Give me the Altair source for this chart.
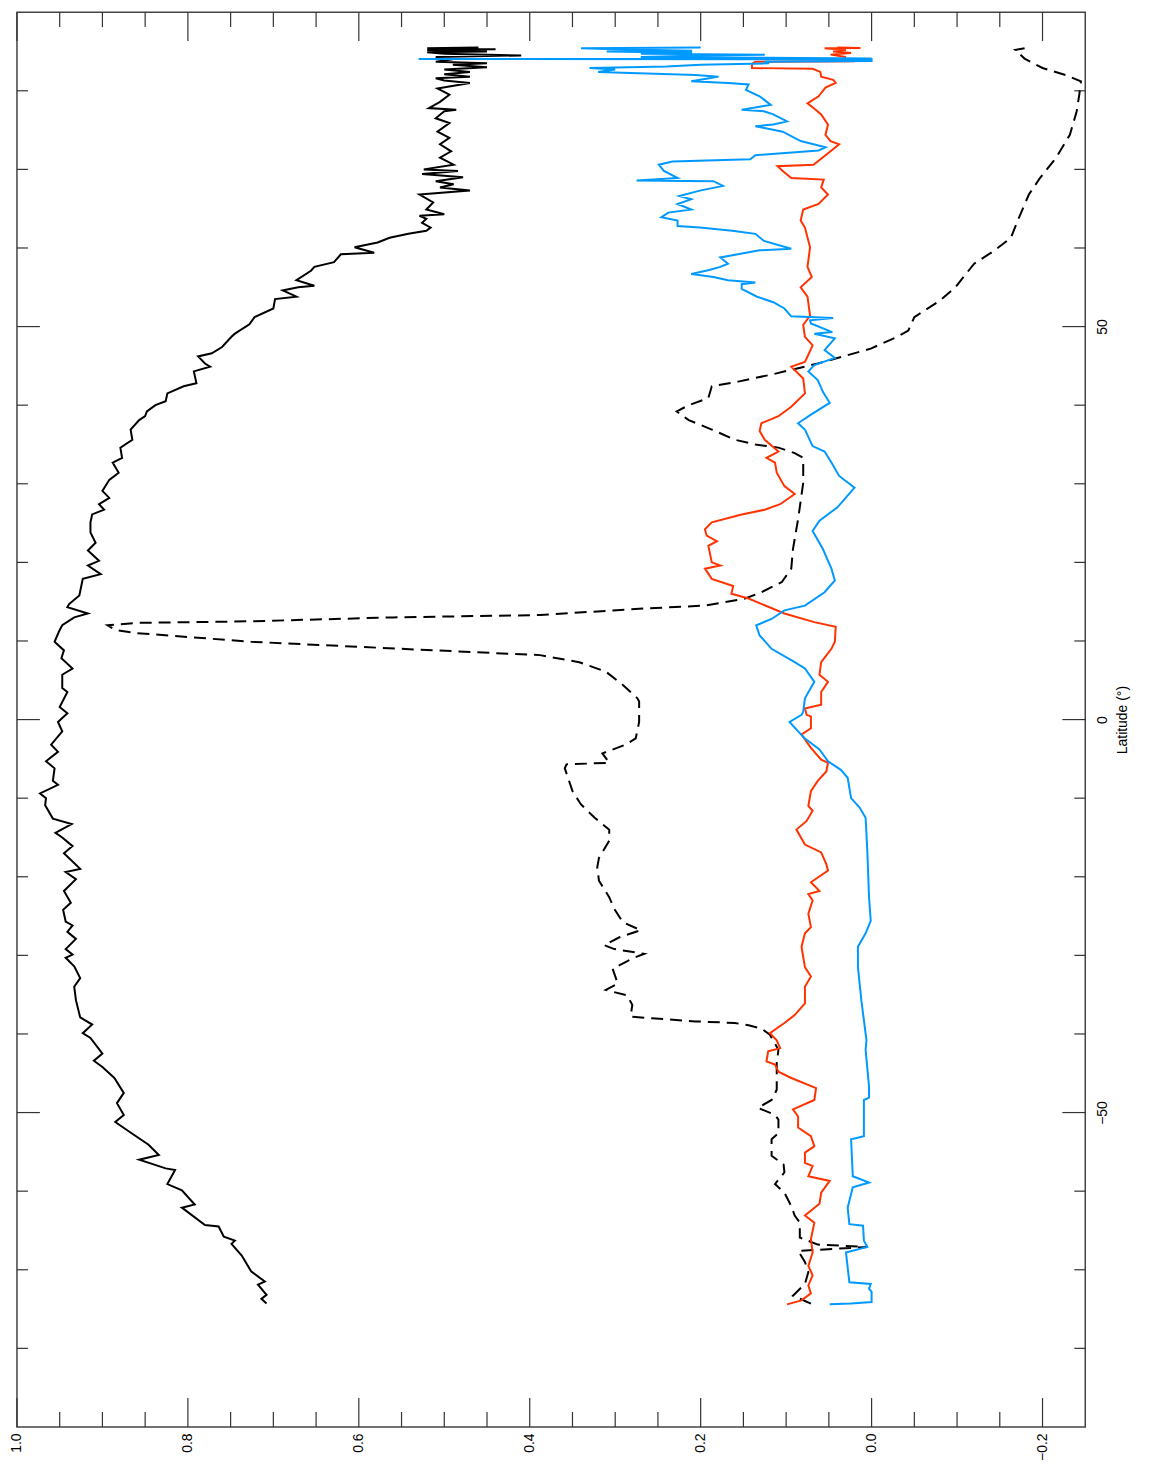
import altair as alt
import pandas as pd

# ---------------- data (latitude in degrees, value) ----------------
black_solid = [
    (-74.3, 0.708), (-73.7, 0.714), (-73.2, 0.708), (-71.9, 0.718), (-71.5, 0.710),
    (-70.2, 0.726), (-68.2, 0.737), (-66.7, 0.749), (-66.3, 0.745), (-65.8, 0.758),
    (-64.5, 0.764), (-64.3, 0.780), (-62.1, 0.807), (-61.7, 0.792), (-59.9, 0.807),
    (-59.1, 0.824), (-57.3, 0.815), (-57.1, 0.826), (-56.0, 0.857), (-55.4, 0.834),
    (-54.1, 0.846), (-52.7, 0.865), (-51.2, 0.885), (-50.3, 0.875), (-48.8, 0.883),
    (-47.5, 0.875), (-45.6, 0.886), (-44.2, 0.900), (-43.4, 0.910), (-42.5, 0.900),
    (-40.5, 0.914), (-39.9, 0.923), (-38.8, 0.912), (-37.9, 0.926), (-35.7, 0.931),
    (-34.0, 0.933), (-32.9, 0.926), (-31.4, 0.933), (-30.3, 0.943), (-29.9, 0.935),
    (-29.2, 0.943), (-27.9, 0.931), (-27.0, 0.941), (-26.2, 0.935), (-25.7, 0.943),
    (-24.2, 0.946), (-23.3, 0.937), (-21.8, 0.945), (-20.3, 0.931), (-19.4, 0.943),
    (-19.0, 0.926), (-17.0, 0.945), (-16.1, 0.935), (-15.0, 0.947), (-14.4, 0.955),
    (-13.3, 0.936), (-12.6, 0.958), (-10.9, 0.967), (-10.0, 0.966), (-9.4, 0.973),
    (-8.3, 0.952), (-7.8, 0.958), (-6.2, 0.956), (-5.3, 0.966), (-4.1, 0.952),
    (-3.2, 0.960), (-1.5, 0.947), (-0.3, 0.952), (0.8, 0.941), (1.6, 0.950),
    (3.5, 0.941), (4.0, 0.947), (5.7, 0.947), (6.5, 0.935), (7.8, 0.948),
    (8.8, 0.945), (9.9, 0.956), (11.4, 0.950), (12.0, 0.947), (13.0, 0.933),
    (13.5, 0.917), (14.3, 0.941), (14.7, 0.939), (15.8, 0.927), (17.9, 0.923),
    (18.5, 0.902), (19.6, 0.917), (20.2, 0.904), (21.5, 0.917), (22.5, 0.908),
    (23.8, 0.914), (25.1, 0.914), (26.1, 0.912), (26.7, 0.898), (27.4, 0.904),
    (28.2, 0.892), (29.1, 0.900), (30.5, 0.892), (31.4, 0.881), (32.7, 0.888),
    (33.3, 0.877), (34.6, 0.879), (35.6, 0.865), (36.9, 0.867), (38.1, 0.857),
    (38.6, 0.850), (39.2, 0.848), (40.0, 0.838), (40.5, 0.826), (41.5, 0.824),
    (42.4, 0.805), (42.8, 0.790), (44.3, 0.793), (44.9, 0.774), (45.3, 0.780),
    (46.2, 0.788), (46.6, 0.772), (47.4, 0.760), (48.7, 0.749), (49.1, 0.745),
    (50.3, 0.728), (51.2, 0.722), (52.3, 0.700), (53.5, 0.698), (53.8, 0.673),
    (54.6, 0.689), (55.0, 0.671), (55.2, 0.652), (55.9, 0.673), (57.1, 0.656),
    (57.6, 0.652), (58.2, 0.629), (59.2, 0.621), (59.4, 0.582), (60.1, 0.605),
    (60.7, 0.578), (61.3, 0.564), (61.8, 0.542), (62.2, 0.521), (62.6, 0.516),
    (63.2, 0.526), (63.7, 0.521), (64.1, 0.529), (64.3, 0.500), (64.9, 0.521),
    (65.8, 0.513), (66.8, 0.529), (67.3, 0.470), (67.7, 0.505), (68.1, 0.489),
    (68.5, 0.510), (69.0, 0.478), (69.4, 0.526), (69.8, 0.484), (70.0, 0.524),
    (70.6, 0.489), (71.5, 0.505), (72.3, 0.492), (73.2, 0.505), (74.0, 0.494),
    (74.8, 0.508), (75.9, 0.494), (76.5, 0.510), (77.4, 0.500), (77.6, 0.486),
    (77.8, 0.518), (78.6, 0.505), (79.5, 0.494), (80.3, 0.508), (81.0, 0.470),
    (81.3, 0.500), (81.6, 0.510), (81.8, 0.470), (82.1, 0.500), (82.4, 0.470),
    (82.7, 0.500), (83.0, 0.450), (83.3, 0.490), (83.5, 0.450), (83.7, 0.510),
    (84.0, 0.490), (84.3, 0.510), (84.5, 0.410), (84.7, 0.500), (84.9, 0.520),
    (85.0, 0.450), (85.2, 0.520), (85.3, 0.440), (85.4, 0.520), (85.5, 0.460),
]

black_dashed = [
    (-74.3, 0.071), (-73.3, 0.092), (-71.8, 0.078), (-70.3, 0.074), (-69.0, 0.078),
    (-67.6, 0.086), (-67.1, 0.005), (-66.8, 0.063), (-65.9, 0.084), (-65.2, 0.084),
    (-64.0, 0.084), (-63.1, 0.090), (-61.9, 0.094), (-60.2, 0.102), (-59.1, 0.113),
    (-57.6, 0.102), (-56.6, 0.103), (-55.5, 0.117), (-53.4, 0.117), (-52.6, 0.109),
    (-50.9, 0.109), (-50.3, 0.113), (-49.4, 0.133), (-48.4, 0.117), (-47.1, 0.111),
    (-45.4, 0.111), (-43.7, 0.111), (-42.0, 0.109), (-40.1, 0.119), (-39.3, 0.129),
    (-38.9, 0.144), (-38.6, 0.160), (-38.4, 0.206), (-38.0, 0.257), (-37.8, 0.282),
    (-36.3, 0.280), (-35.1, 0.286), (-34.4, 0.311), (-33.6, 0.297), (-31.7, 0.303),
    (-30.4, 0.280), (-29.8, 0.266), (-29.2, 0.301), (-28.7, 0.313), (-27.7, 0.295),
    (-26.8, 0.270), (-25.8, 0.291), (-24.1, 0.301), (-22.6, 0.307), (-20.5, 0.319),
    (-18.8, 0.321), (-17.6, 0.319), (-15.4, 0.307), (-14.0, 0.307), (-12.5, 0.324),
    (-10.8, 0.340), (-9.1, 0.350), (-6.2, 0.359), (-5.7, 0.357), (-5.5, 0.307),
    (-4.3, 0.315), (-3.2, 0.288), (-2.4, 0.276), (-0.3, 0.272), (2.3, 0.272),
    (2.7, 0.274), (4.4, 0.291), (6.1, 0.311), (7.3, 0.342), (8.2, 0.388),
    (9.0, 0.550), (9.9, 0.726), (11.0, 0.860), (11.4, 0.885), (12.0, 0.894),
    (12.3, 0.860), (12.5, 0.728), (13.0, 0.560), (13.3, 0.388), (14.1, 0.272),
    (14.5, 0.195), (15.4, 0.148), (16.2, 0.129), (17.5, 0.105), (19.2, 0.094),
    (21.7, 0.092), (25.5, 0.086), (30.1, 0.080), (33.3, 0.080), (33.9, 0.090),
    (34.6, 0.109), (35.0, 0.136), (35.6, 0.160), (36.9, 0.187), (38.1, 0.214),
    (39.2, 0.228), (40.0, 0.214), (40.9, 0.191), (42.4, 0.187), (43.0, 0.156),
    (43.9, 0.117), (44.7, 0.086), (45.3, 0.063), (46.0, 0.040), (47.2, 0.001),
    (48.7, -0.030), (49.5, -0.043), (51.2, -0.050), (53.3, -0.080), (55.0, -0.098),
    (58.0, -0.120), (59.7, -0.144), (61.3, -0.163), (63.5, -0.171), (66.8, -0.184),
    (68.9, -0.197), (71.5, -0.216), (74.4, -0.232), (77.4, -0.240), (79.5, -0.243),
    (81.2, -0.245), (82.0, -0.227), (82.9, -0.200), (84.1, -0.179), (85.2, -0.168),
    (85.4, -0.179),
]

red_line = [
    (-74.4, 0.099), (-73.9, 0.082), (-73.0, 0.071), (-72.0, 0.074), (-70.7, 0.069),
    (-69.5, 0.074), (-67.8, 0.069), (-66.1, 0.071), (-64.0, 0.067), (-63.1, 0.078),
    (-61.6, 0.061), (-60.2, 0.059), (-58.7, 0.049), (-58.1, 0.074), (-56.8, 0.069),
    (-56.4, 0.078), (-55.1, 0.078), (-54.3, 0.067), (-53.0, 0.071), (-51.9, 0.086),
    (-50.5, 0.086), (-49.6, 0.092), (-48.4, 0.067), (-46.9, 0.065), (-45.6, 0.094),
    (-44.8, 0.109), (-43.9, 0.113), (-43.5, 0.123), (-42.2, 0.121), (-41.8, 0.107),
    (-40.8, 0.111), (-39.9, 0.119), (-38.6, 0.102), (-37.6, 0.090), (-36.1, 0.078),
    (-34.0, 0.078), (-32.7, 0.071), (-31.5, 0.078), (-28.9, 0.082), (-27.2, 0.078),
    (-26.4, 0.071), (-24.7, 0.074), (-23.0, 0.069), (-22.2, 0.074), (-21.8, 0.061),
    (-20.7, 0.071), (-19.2, 0.051), (-18.4, 0.053), (-16.9, 0.059), (-15.9, 0.078),
    (-14.0, 0.088), (-12.9, 0.076), (-11.6, 0.069), (-11.0, 0.074), (-9.1, 0.071),
    (-7.8, 0.063), (-6.6, 0.053), (-5.5, 0.051), (-5.1, 0.059), (-3.6, 0.071),
    (-1.9, 0.082), (-1.1, 0.071), (0.4, 0.071), (0.6, 0.076), (1.4, 0.078),
    (1.9, 0.059), (3.5, 0.059), (4.8, 0.051), (5.7, 0.061), (7.3, 0.059),
    (9.0, 0.047), (9.9, 0.043), (11.8, 0.042), (12.4, 0.067), (13.5, 0.102),
    (15.4, 0.144), (16.0, 0.164), (17.0, 0.162), (17.9, 0.187), (19.2, 0.195),
    (19.6, 0.177), (20.0, 0.187), (22.1, 0.191), (22.7, 0.181), (23.4, 0.193),
    (24.2, 0.195), (25.1, 0.187), (26.1, 0.152), (26.7, 0.125), (27.4, 0.107),
    (28.7, 0.090), (29.7, 0.102), (31.4, 0.111), (32.7, 0.113), (33.3, 0.123),
    (34.1, 0.109), (35.6, 0.125), (36.7, 0.131), (37.7, 0.129), (38.6, 0.109),
    (39.8, 0.094), (41.5, 0.078), (43.4, 0.080), (44.9, 0.094), (45.5, 0.078),
    (47.6, 0.069), (48.7, 0.078), (50.2, 0.080), (51.4, 0.072), (53.8, 0.075),
    (55.0, 0.083), (56.3, 0.070), (57.6, 0.075), (60.1, 0.072), (62.6, 0.078),
    (63.5, 0.083), (64.9, 0.080), (65.6, 0.062), (66.8, 0.051), (67.7, 0.059),
    (68.7, 0.056), (68.9, 0.094), (69.8, 0.104), (70.4, 0.110), (70.6, 0.068),
    (72.3, 0.048), (73.2, 0.038), (73.6, 0.048), (74.4, 0.054), (75.7, 0.051),
    (77.0, 0.059), (77.8, 0.068), (78.4, 0.075), (79.3, 0.062), (80.4, 0.054),
    (81.0, 0.042), (81.4, 0.045), (81.8, 0.059), (82.4, 0.060), (82.8, 0.069),
    (82.9, 0.140), (83.4, 0.140), (83.7, 0.136), (83.75, 0.020), (84.0, 0.040),
    (84.3, 0.030), (84.6, 0.048), (84.8, 0.024), (85.0, 0.045), (85.2, 0.030),
    (85.4, 0.055), (85.45, 0.013), (85.5, 0.040),
]

blue_line = [
    (-74.4, 0.049), (-74.3, 0.024), (-74.1, 0.000), (-72.8, 0.000), (-72.4, 0.003),
    (-71.8, 0.001), (-71.6, 0.026), (-67.8, 0.030), (-67.1, 0.005), (-66.3, 0.009),
    (-64.4, 0.010), (-64.2, 0.026), (-62.1, 0.028), (-59.5, 0.022), (-58.9, 0.003),
    (-58.1, 0.022), (-53.4, 0.024), (-53.0, 0.009), (-48.4, 0.009), (-48.1, 0.003),
    (-46.7, 0.003), (-42.0, 0.007), (-40.8, 0.006), (-37.4, 0.010), (-35.7, 0.012),
    (-31.5, 0.016), (-28.9, 0.016), (-27.2, 0.007), (-25.6, 0.001), (-22.6, 0.003),
    (-16.7, 0.005), (-12.5, 0.007), (-11.2, 0.014), (-10.0, 0.024), (-7.4, 0.028),
    (-6.4, 0.036), (-5.3, 0.051), (-3.8, 0.061), (-2.4, 0.078), (-1.5, 0.086),
    (-0.3, 0.096), (0.6, 0.082), (1.0, 0.080), (2.7, 0.078), (4.8, 0.067),
    (6.5, 0.078), (7.3, 0.090), (9.0, 0.117), (10.7, 0.131), (12.0, 0.135),
    (12.8, 0.117), (13.9, 0.102), (14.5, 0.078), (16.2, 0.055), (17.7, 0.043),
    (19.2, 0.047), (21.7, 0.057), (24.0, 0.069), (25.3, 0.061), (27.0, 0.040),
    (29.5, 0.020), (31.0, 0.038), (32.7, 0.047), (34.1, 0.055), (34.8, 0.069),
    (36.9, 0.078), (37.7, 0.086), (38.8, 0.071), (40.3, 0.049), (41.7, 0.057),
    (43.2, 0.063), (44.3, 0.074), (45.1, 0.067), (46.0, 0.043), (47.0, 0.055),
    (48.5, 0.043), (49.1, 0.067), (49.3, 0.046), (50.4, 0.071), (50.8, 0.072),
    (51.1, 0.045), (51.3, 0.094), (52.3, 0.102), (53.1, 0.115), (53.8, 0.134),
    (54.8, 0.152), (55.4, 0.152), (55.6, 0.136), (55.9, 0.168), (56.3, 0.185),
    (56.7, 0.211), (57.2, 0.190), (57.6, 0.177), (58.0, 0.168), (58.8, 0.177),
    (59.7, 0.131), (59.9, 0.094), (60.9, 0.126), (61.8, 0.136), (62.2, 0.163),
    (62.6, 0.201), (62.8, 0.227), (63.5, 0.227), (63.9, 0.246), (64.5, 0.238),
    (64.9, 0.211), (65.6, 0.227), (66.2, 0.211), (66.6, 0.225), (67.3, 0.201),
    (67.9, 0.174), (68.5, 0.185), (68.6, 0.275), (68.9, 0.227), (69.8, 0.243),
    (70.6, 0.249), (71.0, 0.233), (71.3, 0.142), (71.8, 0.136), (72.4, 0.062),
    (72.8, 0.054), (73.6, 0.083), (74.8, 0.104), (75.5, 0.136), (75.7, 0.115),
    (76.1, 0.099), (77.0, 0.115), (77.4, 0.126), (77.6, 0.152), (78.2, 0.118),
    (79.3, 0.131), (80.1, 0.147), (80.8, 0.144), (81.0, 0.168), (81.2, 0.211),
    (81.6, 0.190), (81.8, 0.179), (82.0, 0.206), (82.4, 0.320), (82.7, 0.300),
    (82.9, 0.330), (83.1, 0.240), (83.3, 0.200), (83.5, 0.120), (83.7, 0.125),
    (83.8, 0.000), (84.0, 0.000), (84.05, 0.530), (84.1, 0.000), (84.2, 0.125),
    (84.3, 0.270), (84.5, 0.200), (84.6, 0.125), (84.7, 0.270), (84.85, 0.210),
    (85.0, 0.310), (85.1, 0.210), (85.3, 0.300), (85.4, 0.340), (85.5, 0.200),
]

value_labels = [1.0, 0.8, 0.6, 0.4, 0.2, 0.0, -0.2]
value_ticks_minor = [0.95, 0.9, 0.85, 0.75, 0.7, 0.65, 0.55, 0.5, 0.45,
                     0.35, 0.3, 0.25, 0.15, 0.1, 0.05, -0.05, -0.1, -0.15]
lat_labels = [-50, 0, 50]
lat_ticks_minor = [-80, -70, -60, -40, -30, -20, -10, 10, 20, 30, 40, 60, 70, 80]

# ---------------- styling ----------------
W, H = 1073, 1421
FONT = "Liberation Sans"
FS = 14
TICK = "#333333"
RED = "#ff3300"
BLUE = "#0099ff"

xscale = alt.Scale(domain=[-0.25, 1.0], reverse=True, nice=False, zero=False)
yscale = alt.Scale(domain=[-90, 90], nice=False, zero=False)

xaxis = alt.Axis(values=value_labels, format=".1f", labelAngle=270, labelAlign="right",
                 labelBaseline="middle", labelPadding=6, ticks=False, domain=False,
                 grid=False, title="", labelFont=FONT, labelFontSize=FS,
                 labelColor="black", labelFlush=False, labelOverlap=False)
yaxis = alt.Axis(orient="right", values=lat_labels, format="d", labelAngle=270,
                 labelAlign="center", labelBaseline="top", labelPadding=10,
                 ticks=False, domain=False, grid=False, title="Latitude (°)",
                 titleAngle=270, titleBaseline="top", titleAlign="center",
                 titleFont=FONT, titleFontSize=FS, titleFontWeight="normal",
                 titlePadding=6, titleColor="black", labelFont=FONT,
                 labelFontSize=FS, labelColor="black", labelFlush=False,
                 labelOverlap=False)

X = alt.X("val:Q", scale=xscale, axis=xaxis)
Y = alt.Y("lat:Q", scale=yscale, axis=yaxis)


def series(data, color, dash=None):
    df = pd.DataFrame(data, columns=["lat", "val"])
    df["i"] = range(len(df))
    kw = dict(color=color, strokeWidth=2)
    if dash is not None:
        kw["strokeDash"] = dash
    return alt.Chart(df).mark_line(**kw).encode(x=X, y=Y, order=alt.Order("i:Q"))


def value_ticks(vals, length):
    df = pd.DataFrame({"val": vals})
    base = alt.Chart(df).mark_rule(color=TICK, strokeWidth=1.2)
    bottom = base.encode(x=X, y=alt.value(H), y2=alt.value(H - length))
    top = base.encode(x=X, y=alt.value(0), y2=alt.value(length))
    return [bottom, top]


def lat_ticks(vals, length):
    df = pd.DataFrame({"lat": vals})
    base = alt.Chart(df).mark_rule(color=TICK, strokeWidth=1.2)
    left = base.encode(y=Y, x=alt.value(0), x2=alt.value(length))
    right = base.encode(y=Y, x=alt.value(W), x2=alt.value(W - length))
    return [left, right]


layers = []
layers += value_ticks(value_labels, 29)
layers += value_ticks(value_ticks_minor, 15)
layers += lat_ticks(lat_labels, 23)
layers += lat_ticks(lat_ticks_minor, 11)
layers += [
    series(black_solid, "black"),
    series(black_dashed, "black", [12, 7]),
    series(red_line, RED),
    series(blue_line, BLUE),
]

chart = alt.layer(*layers).properties(
    width=W, height=H,
    autosize=alt.AutoSizeParams(type="none"),
    padding={"left": 9, "top": 1, "right": 58, "bottom": 34},
).configure_view(stroke="#444444", strokeWidth=1.5)

chart.save("out.html", embed_options={"renderer": "svg", "actions": False})
